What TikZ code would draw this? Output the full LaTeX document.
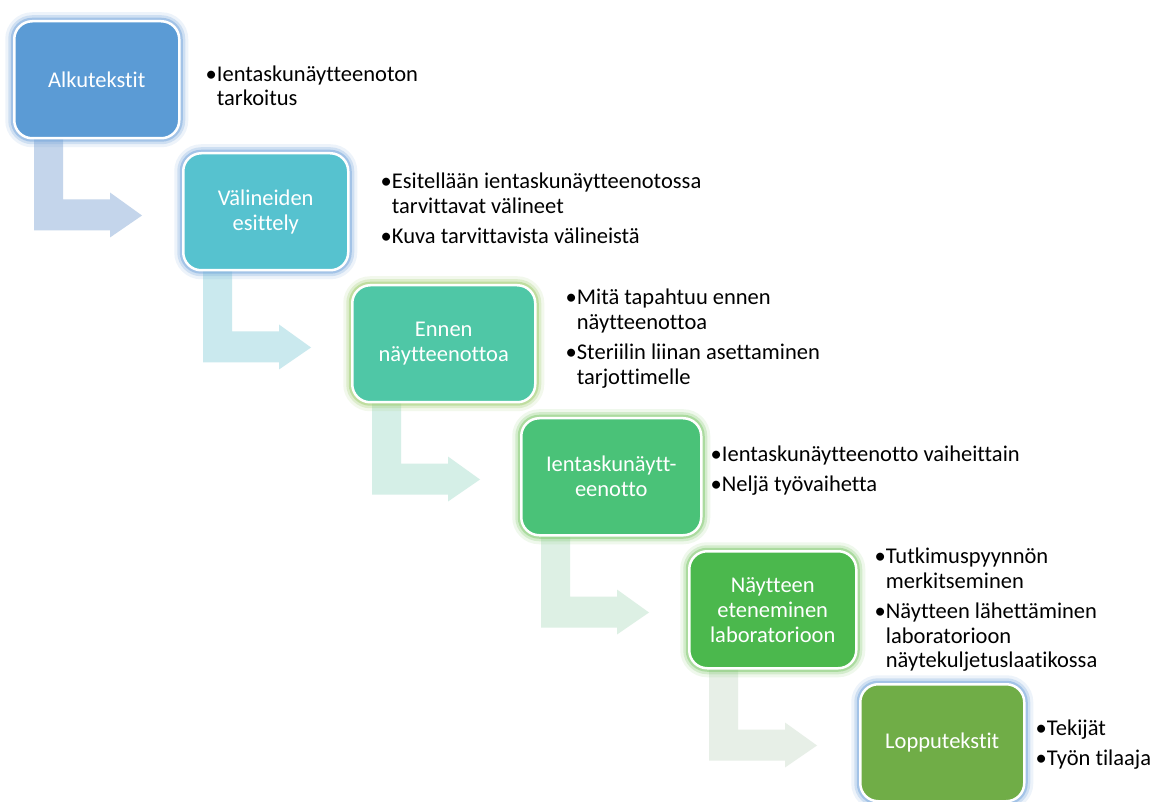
\documentclass[tikz,border=0pt]{standalone}
\usepackage{fontspec}
\setmainfont{Carlito}[Ligatures=CommonOff]
\usepackage{tikz}
\usetikzlibrary{positioning,calc,backgrounds}
\definecolor{stepA}{HTML}{5B9BD5}
\definecolor{stepB}{HTML}{56C2CF}
\definecolor{stepC}{HTML}{4FC7A6}
\definecolor{stepD}{HTML}{4AC278}
\definecolor{stepE}{HTML}{4BB84D}
\definecolor{stepF}{HTML}{70AD47}
\definecolor{bendA}{HTML}{C4D5EB}
\definecolor{bendB}{HTML}{CAE9EE}
\definecolor{bendC}{HTML}{D5EFE7}
\definecolor{bendD}{HTML}{DDF0E4}
\definecolor{bendE}{HTML}{E7EFE7}
\definecolor{glowblue}{HTML}{6FA3DA}
\definecolor{glowlime}{HTML}{9CCB6A}
\definecolor{glowgreen}{HTML}{7CC86A}
\newcommand\boxfont{\fontsize{22.5}{25}\selectfont}
\newcommand\itemfont{\fontsize{22.5}{24.5}\selectfont}
\newcommand\blt{\textbullet}
\newcommand\ind{\hphantom{\textbullet}}
\tikzset{
  stepbox/.style={
    rectangle, rounded corners=18pt, draw=white, line width=2.5pt,
    fill=#1, text=white, font=\boxfont, align=center,
    minimum height=117pt, inner sep=4pt, anchor=north west
  },
  glow/.style={
    preaction={draw=#1, draw opacity=.12, line width=18pt},
    preaction={draw=#1, draw opacity=.24, line width=12pt},
    preaction={draw=#1, draw opacity=.45, line width=7pt}
  },
  bentarrow/.style={fill=#1, draw=none},
  itemtext/.style={anchor=west, align=left, font=\itemfont, text=black, inner sep=0pt},
}

\begin{document}
\begin{tikzpicture}[x=1pt, y=-1pt]
  \useasboundingbox (0,0) rectangle (1152,802);
  % steps
  \node[stepbox=stepA, glow=glowblue, minimum width=165pt] at (13,20) (b1) {Alkutekstit};
  \node[stepbox=stepB, glow=glowblue, minimum width=165pt] at ([xshift=169pt, yshift=-132pt]b1.north west) (b2) {Välineiden\\esittely};
  \node[stepbox=stepC, glow=glowlime, minimum width=183pt] at ([xshift=169pt, yshift=-132pt]b2.north west) (b3) {Ennen\\näytteenottoa};
  \node[stepbox=stepD, glow=glowgreen, minimum width=180pt] at ([xshift=169pt, yshift=-133pt]b3.north west) (b4) {Ientaskunäytt-\\eenotto};
  \node[stepbox=stepE, glow=glowgreen, minimum width=167pt] at ([xshift=168pt, yshift=-133pt]b4.north west) (b5) {Näytteen\\eteneminen\\laboratorioon};
  \node[stepbox=stepF, glow=glowblue, minimum width=164pt] at ([xshift=171pt, yshift=-133pt]b5.north west) (b6) {Lopputekstit};
  % bullet texts
  \node[itemtext] at ([xshift=25pt, yshift=-6pt]b1.east) (t1) {\blt Ientaskunäytteenoton\\\ind tarkoitus};
  \node[itemtext] at ([xshift=31pt, yshift=3pt]b2.east) (t2) {\blt Esitellään ientaskunäytteenotossa\\\ind tarvittavat välineet\\[6pt]\blt Kuva tarvittavista välineistä};
  \node[itemtext] at ([xshift=29pt, yshift=5pt]b3.east) (t3) {\blt Mitä tapahtuu ennen\\\ind näytteenottoa\\[6pt]\blt Steriilin liinan asettaminen\\\ind tarjottimelle};
  \node[itemtext] at ([xshift=8pt, yshift=6pt]b4.east) (t4) {\blt Ientaskunäytteenotto vaiheittain\\[6pt]\blt Neljä työvaihetta};
  \node[itemtext] at ([xshift=17pt]b5.east) (t5) {\blt Tutkimuspyynnön\\\ind merkitseminen\\[6pt]\blt Näytteen lähettäminen\\\ind laboratorioon\\\ind näytekuljetuslaatikossa};
  \node[itemtext] at ([xshift=10pt, yshift=-2pt]b6.east) (t6) {\blt Tekijät\\[6pt]\blt Työn tilaaja};
  % bent arrows
  \begin{scope}[on background layer]
    \fill[white] (0,0) rectangle (1152,802);
    \foreach \b/\c in {b1/bendA, b2/bendB, b3/bendC, b4/bendD, b5/bendE} {
      \fill[bentarrow=\c] ([xshift=21pt, yshift=4pt]\b.south west) -- ++(29,0) -- ++(0,64)
        -- ++(47,0) -- ++(0,-7) -- ++(32,23) -- ++(-32,22) -- ++(0,-7) -- ++(-76,0) -- cycle;
    }
  \end{scope}
\end{tikzpicture}
\end{document}
